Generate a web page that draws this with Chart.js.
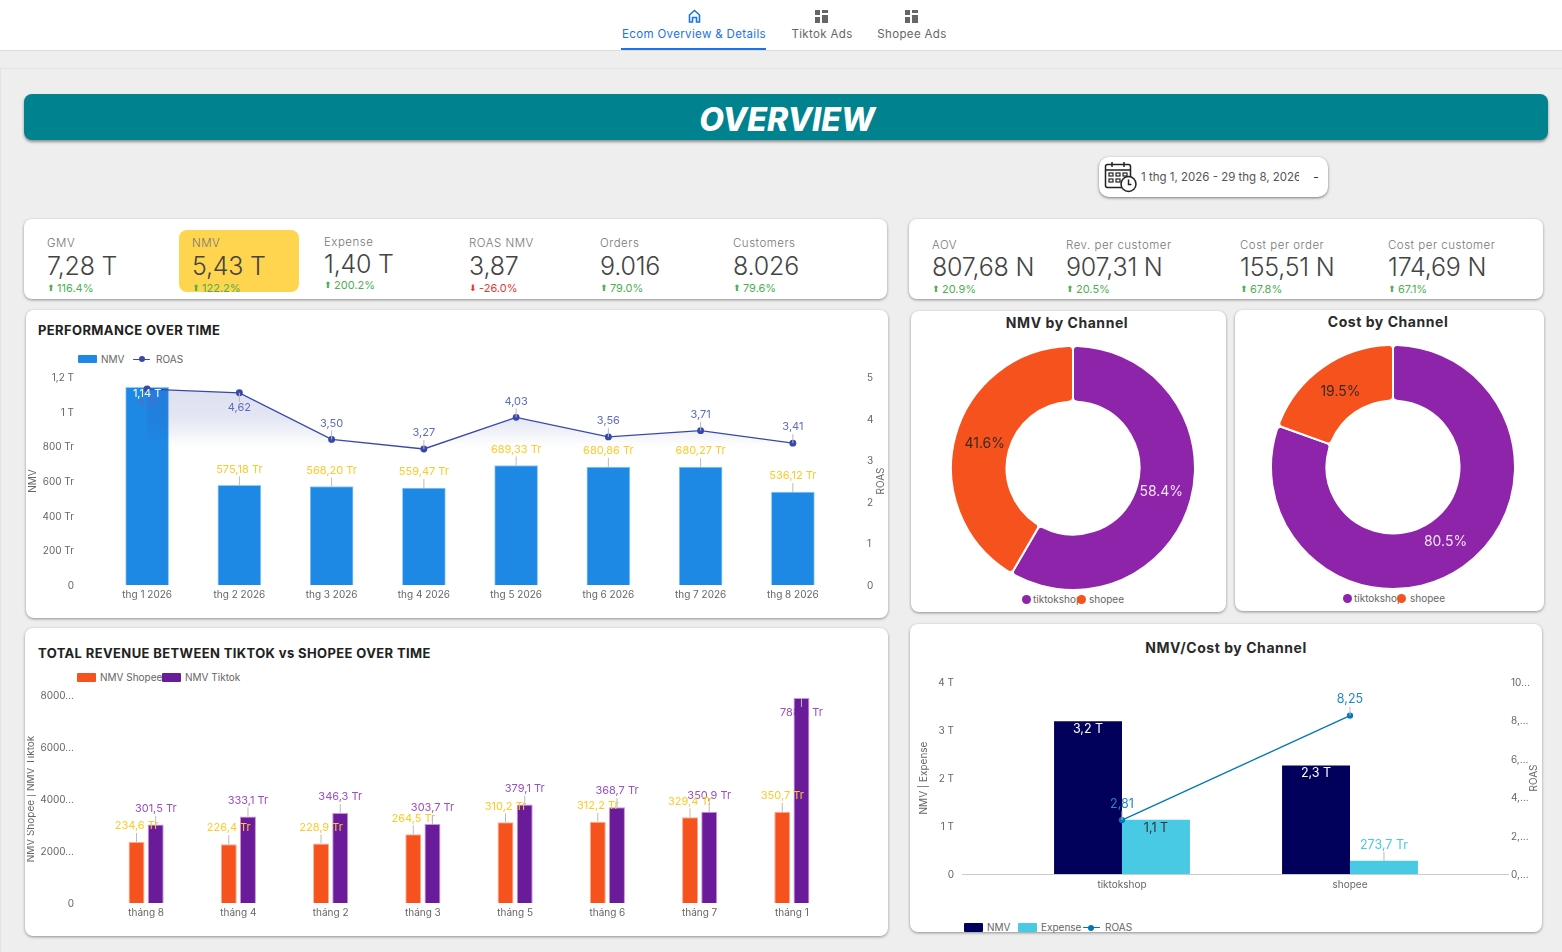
<!DOCTYPE html>
<html>
<head>
<meta charset="utf-8">
<title>Overview</title>
<script src="https://cdn.jsdelivr.net/npm/chart.js@4"></script>
<style>
  html, body { margin: 0; padding: 0; }
  body { width: 1562px; height: 952px; overflow: hidden; background: #eeeeee; position: relative; font-family: Inter, sans-serif; color: #444; }
  .card { position: absolute; background: #fff; border-radius: 8px; box-shadow: 0 1px 3px rgba(0,0,0,.4); }
  .t { position: absolute; white-space: nowrap; transform: translateY(-50%); }
  .c { transform: translate(-50%, -50%); }
  canvas { position: absolute; }
  .sw { position: absolute; }
</style>
</head>
<body>
<div style="position:absolute;left:0;top:0;width:1562px;height:50px;background:#fff;border-bottom:1px solid #ddd"></div>
<div style="position:absolute;left:0;top:68px;width:1562px;height:884px;border-top:1px solid #e3e3e3;border-left:1px solid #e3e3e3"></div>
<div style="position:absolute;left:621px;top:48px;width:145px;height:2px;background:#1a73e8"></div>

<svg style="position:absolute;left:688px;top:9px" width="13" height="14" viewBox="0 0 13 14"><path d="M1.5 6 6.5 1.5 11.5 6V13H8.5V8.5H4.5V13H1.5Z" fill="none" stroke="#1a73e8" stroke-width="1.6"/></svg>
<svg style="position:absolute;left:815px;top:10px" width="14" height="13"><g fill="#666"><rect x="0" y="0" width="5" height="5"/><rect x="7" y="0" width="6" height="3"/><rect x="7" y="5" width="6" height="8"/><rect x="0" y="7" width="5" height="6"/></g></svg>
<svg style="position:absolute;left:905px;top:10px" width="14" height="13"><g fill="#666"><rect x="0" y="0" width="5" height="5"/><rect x="7" y="0" width="6" height="3"/><rect x="7" y="5" width="6" height="8"/><rect x="0" y="7" width="5" height="6"/></g></svg>

<div style="position:absolute;left:24px;top:94px;width:1524px;height:46px;background:#00838f;border-radius:8px;box-shadow:0 2px 3px rgba(0,0,0,.4)"></div>

<div class="card" style="left:1099px;top:157px;width:229px;height:40px;border-radius:10px;box-shadow:0 1px 3px rgba(0,0,0,.5)"></div>
<svg style="position:absolute;left:1104px;top:161px" width="34" height="32" viewBox="0 0 34 32" fill="none" stroke="#222" stroke-width="1.5">
  <rect x="1.5" y="3.5" width="25" height="23" rx="2"/><path d="M1.5 9H26.5M8 1V6M20 1V6"/>
  <g stroke-width="1.2"><rect x="5" y="12" width="4" height="3"/><rect x="12" y="12" width="4" height="3"/><rect x="19" y="12" width="4" height="3"/><rect x="5" y="18" width="4" height="3"/><rect x="12" y="18" width="4" height="3"/></g>
  <circle cx="24.5" cy="23" r="7.5" fill="#fff"/><path d="M24.5 18.5V23.5H27.5"/>
</svg>

<div class="card" style="left:24px;top:219px;width:863px;height:80px"></div>
<div class="card" style="left:909px;top:219px;width:634px;height:80px"></div>
<div style="position:absolute;left:179px;top:230px;width:120px;height:62px;background:#ffd54f;border-radius:8px"></div>

<div class="card" style="left:26px;top:310px;width:862px;height:308px"></div>
<div class="card" style="left:25px;top:628px;width:863px;height:308px"></div>
<div class="card" style="left:911px;top:311px;width:315px;height:301px"></div>
<div class="card" style="left:1235px;top:310px;width:309px;height:301px"></div>
<div class="card" style="left:910px;top:624px;width:632px;height:308px"></div>

<canvas id="perfChart" style="left:27px;top:365px" width="859" height="245"></canvas>
<canvas id="revChart" style="left:27px;top:685px" width="859" height="243"></canvas>
<canvas id="nmvPie" style="left:950px;top:345px" width="246" height="246"></canvas>
<canvas id="costPie" style="left:1270px;top:344px" width="246" height="246"></canvas>
<canvas id="channelChart" style="left:912px;top:670px" width="628" height="235"></canvas>

<script>
const monthsPerf = ["thg 1 2026", "thg 2 2026", "thg 3 2026", "thg 4 2026", "thg 5 2026", "thg 6 2026", "thg 7 2026", "thg 8 2026"];
const nmvPerf = [1140, 575.18, 568.2, 559.47, 689.33, 680.86, 680.27, 536.12];
const roasPerf = [4.71, 4.62, 3.5, 3.27, 4.03, 3.56, 3.71, 3.41];
const nmvPerfLabels = ["1,14 T", "575,18 Tr", "568,20 Tr", "559,47 Tr", "689,33 Tr", "680,86 Tr", "680,27 Tr", "536,12 Tr"];
const roasPerfLabels = ["4,71", "4,62", "3,50", "3,27", "4,03", "3,56", "3,71", "3,41"];
const nmvPerfTicks = ["0", "200 Tr", "400 Tr", "600 Tr", "800 Tr", "1 T", "1,2 T"];

const monthsRev = ["tháng 8", "tháng 4", "tháng 2", "tháng 3", "tháng 5", "tháng 6", "tháng 7", "tháng 1"];
const shopeeRev = [234.6, 226.4, 228.9, 264.5, 310.2, 312.2, 329.4, 350.7];
const tiktokRev = [301.5, 333.1, 346.3, 303.7, 379.1, 368.7, 350.9, 788.6];
const shopeeRevLabels = ["234,6 Tr", "226,4 Tr", "228,9 Tr", "264,5 Tr", "310,2 Tr", "312,2 Tr", "329,4 Tr", "350,7 Tr"];
const tiktokRevLabels = ["301,5 Tr", "333,1 Tr", "346,3 Tr", "303,7 Tr", "379,1 Tr", "368,7 Tr", "350,9 Tr", "788,6 Tr"];
const revTicks = ["0", "2000...", "4000...", "6000...", "8000..."];

const channels = ["tiktokshop", "shopee"];
const nmvShare = [58.4, 41.6];
const costShare = [80.5, 19.5];
const nmvShareLabels = ["58.4%", "41.6%"];
const costShareLabels = ["80.5%", "19.5%"];
const channelNmv = [3.18, 2.26];
const channelExpense = [1.13, 0.2737];
const channelRoas = [2.81, 8.25];
const channelNmvLabels = ["3,2 T", "2,3 T"];
const channelExpenseLabels = ["1,1 T", "273,7 Tr"];
const channelRoasLabels = ["2,81", "8,25"];
const channelTicks = ["0", "1 T", "2 T", "3 T", "4 T"];
const channelRoasTicks = ["0,...", "2,...", "4,...", "6,...", "8,...", "10..."];

const kpiLeft = [
  ["GMV", "7,28 T", "116.4%", 47, 243, 266, 288, 1],
  ["NMV", "5,43 T", "122.2%", 192, 243, 266, 288, 1],
  ["Expense", "1,40 T", "200.2%", 324, 242, 264, 285, 1],
  ["ROAS NMV", "3,87", "-26.0%", 469, 243, 266, 288, 0],
  ["Orders", "9.016", "79.0%", 600, 243, 266, 288, 1],
  ["Customers", "8.026", "79.6%", 733, 243, 266, 288, 1]
];
const kpiRight = [
  ["AOV", "807,68 N", "20.9%", 932, 245, 267, 289, 1],
  ["Rev. per customer", "907,31 N", "20.5%", 1066, 245, 267, 289, 1],
  ["Cost per order", "155,51 N", "67.8%", 1240, 245, 267, 289, 1],
  ["Cost per customer", "174,69 N", "67.1%", 1388, 245, 267, 289, 1]
];

function text(str, x, y, css, centered) {
  const d = document.createElement("div");
  d.className = centered ? "t c" : "t";
  d.textContent = str;
  d.style.cssText = `left:${x}px;top:${y}px;${css}`;
  document.body.appendChild(d);
  return d;
}

function swatch(x, y, w, h, color, round) {
  const d = document.createElement("div");
  d.className = "sw";
  d.style.cssText = `left:${x}px;top:${y}px;width:${w}px;height:${h}px;background:${color};border-radius:${round ? "50%" : "1px"}`;
  document.body.appendChild(d);
}

text("Ecom Overview & Details", 694, 34, "font-size:11.5px;letter-spacing:.35px;color:#1a73e8", true);
text("Tiktok Ads", 822, 34, "font-size:11.5px;letter-spacing:.35px;color:#666", true);
text("Shopee Ads", 912, 34, "font-size:11.5px;letter-spacing:.35px;color:#666", true);
text("OVERVIEW", 787, 119, "font-size:32px;font-weight:800;font-style:italic;color:#fff", true);

text("1 thg 1, 2026 - 29 thg 8, 2026", 1141, 177, "font-size:11.5px;color:#555;width:158px;overflow:hidden");
text("-", 1316, 176, "font-size:12px;color:#333", true);

[...kpiLeft, ...kpiRight].forEach(k => {
  text(k[0], k[3], k[4], "font-size:11.5px;letter-spacing:.5px;font-weight:300;color:#777");
  text(k[1], k[3], k[5], "font-size:25px;font-weight:300;color:#444;letter-spacing:-.2px");
  const color = k[7] ? "#4caf50" : "#e53935";
  text(k[7] ? "⬆" : "⬇", k[3], k[6], `font-size:9px;color:${color};font-family:'DejaVu Sans'`);
  text(k[2], k[3] + 10, k[6], `font-size:11px;color:${color}`);
});

const titleCss = "font-size:13px;font-weight:700;letter-spacing:.38px;color:#212121";
text("PERFORMANCE OVER TIME", 38, 330, titleCss);
text("TOTAL REVENUE BETWEEN TIKTOK vs SHOPEE OVER TIME", 38, 653, titleCss);
const panelTitle = "font-size:14px;font-weight:700;letter-spacing:.55px;color:#2a2a2a";
text("NMV by Channel", 1067, 322, panelTitle, true);
text("Cost by Channel", 1388, 321, panelTitle, true);
text("NMV/Cost by Channel", 1226, 647, panelTitle, true);

const legendCss = "font-size:10px;color:#666";
swatch(78, 355, 19, 8, "#1e88e5");
text("NMV", 101, 359, legendCss);
swatch(133, 358.5, 17, 1, "#3949ab");
swatch(139, 356, 6, 6, "#3949ab", true);
text("ROAS", 156, 359, legendCss);

swatch(77, 673, 19, 9, "#f6521e");
text("NMV Shopee", 100, 677, legendCss);
swatch(162, 673, 19, 9, "#6a1b9a");
text("NMV Tiktok", 185, 677, legendCss);

swatch(1022, 595, 9, 9, "#8e24aa", true);
text("tiktokshop", 1033, 599, legendCss);
swatch(1077, 595, 9, 9, "#f6521e", true);
text("shopee", 1089, 599, legendCss);
swatch(1343, 594, 9, 9, "#8e24aa", true);
text("tiktokshop", 1354, 598, legendCss);
swatch(1397, 594, 9, 9, "#f6521e", true);
text("shopee", 1410, 598, legendCss);

swatch(964, 923, 19, 9, "#01015c");
text("NMV", 987, 927, legendCss);
swatch(1018, 923, 19, 9, "#48cae4");
text("Expense", 1041, 927, legendCss);
swatch(1083, 926.5, 17, 1, "#0277bd");
swatch(1088, 924.5, 6, 6, "#0277bd", true);
text("ROAS", 1105, 927, legendCss);

Chart.defaults.font.family = "Inter, sans-serif";
Chart.defaults.font.size = 10;
Chart.defaults.color = "#666";
Chart.defaults.animation = false;
Chart.defaults.responsive = false;
Chart.defaults.plugins.legend.display = false;
Chart.defaults.plugins.tooltip.enabled = false;

function drawLabelText(ctx, ds, el, j) {
  const o = (ds.labelOverrides && ds.labelOverrides[j]) || {};
  ctx.save();
  ctx.font = `${ds.labelSize || 11}px Inter, sans-serif`;
  ctx.fillStyle = o.color || ds.labelColor;
  ctx.textAlign = "center";
  ctx.textBaseline = "middle";
  ctx.fillText(ds.valueLabels[j], el.x, el.y + (o.dy ?? -16));
  ctx.restore();
}

// value labels with the little grey leader lines
const valueLabels = {
  id: "valueLabels",
  // labelUnder labels go behind their own bars, the tall tiktok bar hides part of its text
  beforeDatasetDraw(chart, args) {
    const ds = chart.data.datasets[args.index];
    if (!ds.valueLabels || !ds.labelUnder) return;
    args.meta.data.forEach((el, j) => drawLabelText(chart.ctx, ds, el, j));
  },
  afterDatasetsDraw(chart) {
    const { ctx } = chart;
    chart.data.datasets.forEach((ds, i) => {
      if (!ds.valueLabels) return;
      chart.getDatasetMeta(i).data.forEach((el, j) => {
        const o = (ds.labelOverrides && ds.labelOverrides[j]) || {};
        const dy = o.dy ?? -16;
        if (o.lead ?? true) {
          ctx.save();
          ctx.strokeStyle = "#bbb";
          ctx.beginPath();
          ctx.moveTo(el.x, el.y);
          ctx.lineTo(el.x, el.y + dy + (dy < 0 ? 7 : -6));
          ctx.stroke();
          ctx.restore();
        }
        if (!ds.labelUnder) drawLabelText(ctx, ds, el, j);
      });
    });
  }
};

const pieLabels = {
  id: "pieLabels",
  afterDatasetsDraw(chart) {
    const { ctx } = chart;
    const ds = chart.data.datasets[0];
    chart.getDatasetMeta(0).data.forEach((arc, j) => {
      // the reference sits these a little inside the middle of the ring
      const p = arc.getCenterPoint();
      const x = arc.x + (p.x - arc.x) * 0.97;
      const y = arc.y + (p.y - arc.y) * 0.97;
      ctx.save();
      ctx.font = "14px Inter, sans-serif";
      ctx.fillStyle = ds.labelColors[j];
      ctx.textAlign = "center";
      ctx.textBaseline = "middle";
      ctx.fillText(ds.valueLabels[j], x, y);
      ctx.restore();
    });
  }
};

// axis titles sit in fixed spots and all read bottom to top
const axisTitles = {
  id: "axisTitles",
  afterDraw(chart, args, opts) {
    const { ctx } = chart;
    opts.items.forEach(it => {
      ctx.save();
      ctx.translate(it.x, it.y);
      ctx.rotate(-Math.PI / 2);
      ctx.font = "10px Inter, sans-serif";
      ctx.fillStyle = "#666";
      ctx.textAlign = "center";
      ctx.textBaseline = "middle";
      ctx.fillText(it.text, 0, 0);
      ctx.restore();
    });
  }
};

// the channel chart baseline runs wider than its category band
const wideBaseline = {
  id: "wideBaseline",
  beforeDatasetsDraw(chart) {
    const { ctx, chartArea } = chart;
    const y = chart.scales.y.getPixelForValue(0);
    ctx.save();
    ctx.strokeStyle = "#ccc";
    ctx.beginPath();
    ctx.moveTo(chartArea.left - 46, y + 0.5);
    ctx.lineTo(chartArea.right + 45, y + 0.5);
    ctx.stroke();
    ctx.restore();
  }
};

function yAxis(width, padding, labels, max, step, position) {
  return {
    position: position || "left",
    min: 0,
    max: max,
    // tick padding would otherwise also inset the plot top and bottom
    afterFit: s => { s.width = width; s.paddingTop = 0; s.paddingBottom = 0; },
    grid: { display: false, drawTicks: false },
    border: { display: false },
    ticks: { stepSize: step, padding: padding, labelOffset: 1, callback: (v, i) => labels[i] }
  };
}

function xAxis(height, padding) {
  return {
    afterFit: s => { s.height = height; s.paddingLeft = 0; s.paddingRight = 0; },
    grid: { display: false, drawTicks: false },
    border: { display: false },
    ticks: { padding: padding, maxRotation: 0, autoSkip: false }
  };
}

function roasFill(context) {
  const { chart } = context;
  if (!chart.chartArea) return "transparent";
  const top = chart.chartArea.top;
  const g = chart.ctx.createLinearGradient(0, top + 11, 0, top + 70);
  g.addColorStop(0, "rgba(57,73,171,0.17)");
  g.addColorStop(0.5, "rgba(57,73,171,0.14)");
  g.addColorStop(1, "rgba(57,73,171,0)");
  return g;
}

new Chart(document.getElementById("perfChart"), {
  type: "bar",
  data: {
    labels: monthsPerf,
    datasets: [
      {
        type: "line", label: "ROAS", data: roasPerf, yAxisID: "y1", order: 0,
        borderColor: "#3949ab", borderWidth: 1.3, tension: 0,
        pointRadius: 2.8, pointBackgroundColor: "#3949ab", pointBorderColor: "#3949ab",
        fill: "origin", backgroundColor: roasFill,
        valueLabels: roasPerfLabels, labelColor: "#5c6bc0",
        labelOverrides: { 0: { dy: 14, lead: false }, 1: { dy: 15 } }
      },
      {
        label: "NMV", data: nmvPerf, yAxisID: "y", order: 1, barThickness: 43,
        backgroundColor: "#1e88e5", borderColor: "#90caf9", borderWidth: 1,
        valueLabels: nmvPerfLabels, labelColor: "#ffc926",
        labelOverrides: { 0: { dy: 6, lead: false, color: "#fff" } }
      }
    ]
  },
  options: {
    layout: { autoPadding: false, padding: { top: 12 } },
    scales: {
      x: xAxis(25, 4),
      y: yAxis(74, 27, nmvPerfTicks, 1200, 200),
      y1: yAxis(47, 28, [0, 1, 2, 3, 4, 5], 5, 1, "right")
    },
    plugins: { axisTitles: { items: [{ text: "NMV", x: 6, y: 116 }, { text: "ROAS", x: 854, y: 116 }] } }
  },
  plugins: [valueLabels, axisTitles]
});

new Chart(document.getElementById("revChart"), {
  type: "bar",
  data: {
    labels: monthsRev,
    datasets: [
      {
        label: "NMV Shopee", data: shopeeRev, categoryPercentage: 0.416, barPercentage: 0.833,
        backgroundColor: "#f6521e", borderColor: "#ffab91", borderWidth: 1,
        valueLabels: shopeeRevLabels, labelColor: "#ffc926"
      },
      {
        label: "NMV Tiktok", data: tiktokRev, categoryPercentage: 0.416, barPercentage: 0.833,
        backgroundColor: "#6a1b9a", borderColor: "#ce93d8", borderWidth: 1,
        valueLabels: tiktokRevLabels, labelColor: "#9a4fc4", labelUnder: true,
        labelOverrides: { 7: { dy: 15 } }
      }
    ]
  },
  options: {
    layout: { autoPadding: false, padding: { top: 10, right: 48 } },
    scales: {
      x: xAxis(25, 4),
      y: yAxis(73, 26, revTicks, 800, 200)
    },
    plugins: { axisTitles: { items: [{ text: "NMV Shopee | NMV Tiktok", x: 4, y: 114 }] } }
  },
  plugins: [valueLabels, axisTitles]
});

function pie(id, shares, labels, labelColors) {
  new Chart(document.getElementById(id), {
    type: "doughnut",
    data: {
      labels: channels,
      datasets: [{
        data: shares,
        backgroundColor: ["#8e24aa", "#f6521e"],
        borderColor: "#fff", borderWidth: 2, borderRadius: 4,
        valueLabels: labels, labelColors: labelColors
      }]
    },
    options: { cutout: "54.5%" },
    plugins: [pieLabels]
  });
}

pie("nmvPie", nmvShare, nmvShareLabels, ["#f3e5f5", "#3a2a20"]);
pie("costPie", costShare, costShareLabels, ["#f3e5f5", "#3a2a20"]);

new Chart(document.getElementById("channelChart"), {
  type: "bar",
  data: {
    labels: channels,
    datasets: [
      {
        type: "line", label: "ROAS", data: channelRoas, yAxisID: "y1", order: 0,
        borderColor: "#0277bd", borderWidth: 1.3, tension: 0,
        pointRadius: 2.5, pointBackgroundColor: "#0277bd", pointBorderColor: "#0277bd",
        valueLabels: channelRoasLabels, labelColor: "#1e88c5", labelSize: 12.5
      },
      {
        label: "NMV", data: channelNmv, yAxisID: "y", order: 1,
        categoryPercentage: 0.596, barPercentage: 1, backgroundColor: "#01015c",
        valueLabels: channelNmvLabels, labelColor: "#fff", labelSize: 12.5,
        labelOverrides: { 0: { dy: 8, lead: false }, 1: { dy: 8, lead: false } }
      },
      {
        label: "Expense", data: channelExpense, yAxisID: "y", order: 1,
        categoryPercentage: 0.596, barPercentage: 1, backgroundColor: "#48cae4",
        valueLabels: channelExpenseLabels, labelColor: "#48cae4", labelSize: 12.5,
        labelOverrides: { 0: { dy: 8, lead: false, color: "#333" } }
      }
    ]
  },
  options: {
    layout: { autoPadding: false, padding: { top: 12 } },
    scales: {
      x: xAxis(31, 5),
      y: yAxis(96, 54, channelTicks, 4, 1),
      y1: yAxis(76, 47, channelRoasTicks, 10, 2, "right")
    },
    plugins: { axisTitles: { items: [{ text: "NMV | Expense", x: 12, y: 108 }, { text: "ROAS", x: 622, y: 108 }] } }
  },
  plugins: [valueLabels, axisTitles, wideBaseline]
});
</script>
</body>
</html>
